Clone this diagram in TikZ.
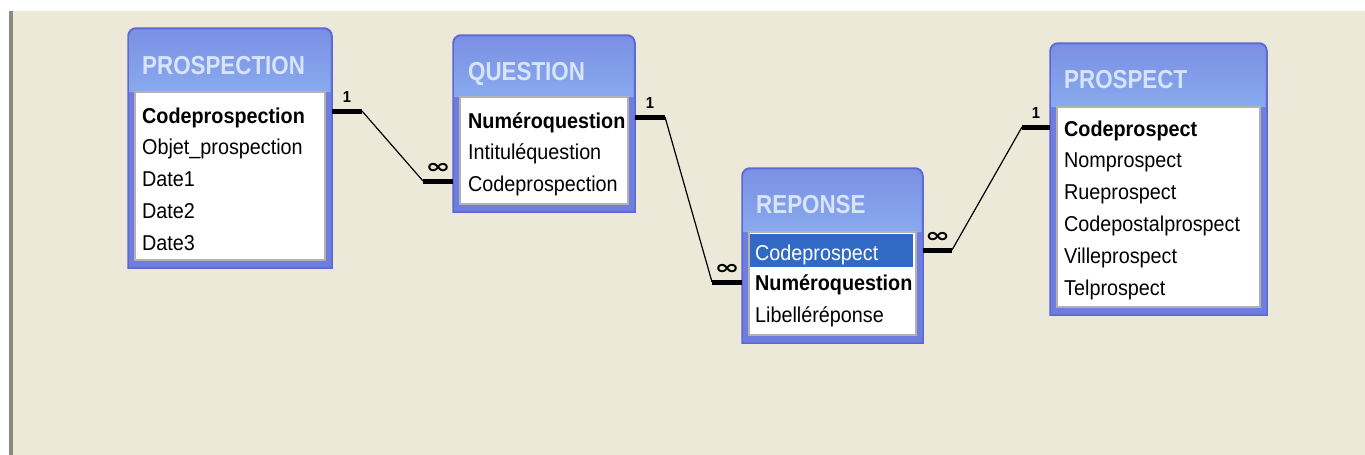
\documentclass[tikz,border=0pt]{standalone}
\usepackage{fontspec}
\setmainfont{Liberation Sans}[FakeStretch=0.92]
\newfontfamily\titlefont{Liberation Sans}[FakeStretch=0.86]
\newfontfamily\manyfont{DejaVu Sans}[FakeStretch=1.5]
\usetikzlibrary{positioning}
\definecolor{deskbg}{HTML}{ECE9D8}
\definecolor{edgegray}{HTML}{8C8A7E}
\definecolor{framedark}{HTML}{5D68D4}
\definecolor{framebody}{HTML}{6E7DDE}
\definecolor{headtop}{HTML}{7B90E4}
\definecolor{headlow}{HTML}{88AAEE}
\definecolor{titletext}{HTML}{D8E4FA}
\definecolor{selblue}{HTML}{316AC5}
% frame of one table: x1, y1, x2, y2, top of the field list
\newcommand{\dbframe}[5]{%
	\path[framebox] (#1,#4) [rounded corners=8] -- (#1,#2) -- (#3,#2)
		[sharp corners] -- (#3,#4) -- cycle;
	\path[framehead] (#1+1.5,#5) [rounded corners=7] -- (#1+1.5,#2+1.5)
		-- (#3-1.5,#2+1.5) [sharp corners] -- (#3-1.5,#5) -- cycle;
	\draw[fieldbox] (#1+7,#5) rectangle (#3-7,#4-8);
}

\begin{document}
\begin{tikzpicture}[
		x=1pt, y=-1pt,
		node distance=0pt,
		every node/.style={font=\fontsize{21.5}{25}\selectfont},
		framebox/.style={
			fill=framebody,
			draw=framedark,
			line width=1.5pt
		},
		framehead/.style={
			top color=headtop,
			bottom color=headlow
		},
		fieldbox/.style={
			fill=white,
			draw=black!30,
			line width=1.5pt
		},
		tabletitle/.style={
			anchor=base west,
			inner sep=0pt,
			text=titletext,
			font=\titlefont\bfseries\fontsize{26}{30}\selectfont
		},
		field/.style={
			text width=#1,
			align=left,
			inner xsep=0pt,
			inner ysep=0pt,
			text height=21pt,
			text depth=10.5pt
		},
		keyfield/.style={font=\bfseries\fontsize{21.5}{25}\selectfont},
		selfield/.style={
			fill=selblue,
			text=white,
			inner xsep=5pt,
			text height=26pt,
			text depth=7pt
		},
		keyline/.style={line width=5pt},
		relline/.style={line width=1.2pt},
		cardinal/.style={
			inner sep=0pt,
			font=\bfseries\fontsize{16}{16}\selectfont
		},
		many/.style={
			inner sep=0pt,
			font=\manyfont\bfseries\fontsize{20}{20}\selectfont
		}
	]
		\useasboundingbox (0,0) rectangle (1365,455);
		\fill[white] (0,0) rectangle (1365,455);
		\fill[deskbg] (9,11) rectangle (1365,455);
		\fill[edgegray] (9,11) rectangle (13,455);

		% tables
		\dbframe{128}{28}{332}{268}{92}
		\dbframe{453}{35}{635}{212}{97}
		\dbframe{742}{168}{923}{343}{232}
		\dbframe{1050}{43}{1267}{315}{107}

		\node[tabletitle] (prospection) at (142,74) {PROSPECTION};
		\node[field=180, keyfield, anchor=base west] (prospection-code)
			at (142,123) {Codeprospection};
		\node[field=180, below=of prospection-code] (prospection-objet)
			{Objet\_prospection};
		\node[field=180, below=of prospection-objet] (prospection-date1) {Date1};
		\node[field=180, below=of prospection-date1] (prospection-date2) {Date2};
		\node[field=180, below=of prospection-date2] (prospection-date3) {Date3};

		\node[tabletitle] (question) at (468,80) {QUESTION};
		\node[field=155, keyfield, anchor=base west] (question-num)
			at (468,128) {Numéroquestion};
		\node[field=155, below=of question-num] (question-intitule)
			{Intituléquestion};
		\node[field=155, below=of question-intitule] (question-code)
			{Codeprospection};

		\node[tabletitle] (reponse) at (756,213) {REPONSE};
		\node[field=153, selfield, anchor=base west] (reponse-prospect)
			at (750,260) {Codeprospect};
		\node[field=153, keyfield, below=2pt of reponse-prospect] (reponse-num)
			{Numéroquestion};
		\node[field=153, below=of reponse-num] (reponse-libelle)
			{Libelléréponse};

		\node[tabletitle] (prospect) at (1064,88) {PROSPECT};
		\node[field=190, keyfield, anchor=base west] (prospect-code)
			at (1064,136) {Codeprospect};
		\node[field=190, below=of prospect-code] (prospect-nom) {Nomprospect};
		\node[field=190, below=of prospect-nom] (prospect-rue) {Rueprospect};
		\node[field=190, below=of prospect-rue] (prospect-cp)
			{Codepostalprospect};
		\node[field=190, below=of prospect-cp] (prospect-ville) {Villeprospect};
		\node[field=190, below=of prospect-ville] (prospect-tel) {Telprospect};

		% relations
		\coordinate (prospection-out) at (332,111);
		\coordinate (question-in) at (453,181);
		\coordinate (question-out) at (635,117);
		\coordinate (reponse-in) at (742,282);
		\coordinate (reponse-out) at (923,250);
		\coordinate (prospect-in) at (1050,127);

		\draw[keyline] (prospection-out) -- node[cardinal, above=6pt] (one-a) {1}
			++(30,0) coordinate (bend-a1);
		\draw[keyline] (question-in) -- node[many, above=5pt] (many-a) {∞}
			++(-30,0) coordinate (bend-a2);
		\draw[relline] (bend-a1) -- (bend-a2);

		\draw[keyline] (question-out) -- node[cardinal, above=6pt] (one-b) {1}
			++(30,0) coordinate (bend-b1);
		\draw[keyline] (reponse-in) -- node[many, above=5pt] (many-b) {∞}
			++(-30,0) coordinate (bend-b2);
		\draw[relline] (bend-b1) -- (bend-b2);

		\draw[keyline] (reponse-out) -- node[many, above=5pt] (many-c) {∞}
			++(29,0) coordinate (bend-c1);
		\draw[keyline] (prospect-in) -- node[cardinal, above=6pt] (one-c) {1}
			++(-28,0) coordinate (bend-c2);
		\draw[relline] (bend-c1) -- (bend-c2);
	\end{tikzpicture}
\end{document}
